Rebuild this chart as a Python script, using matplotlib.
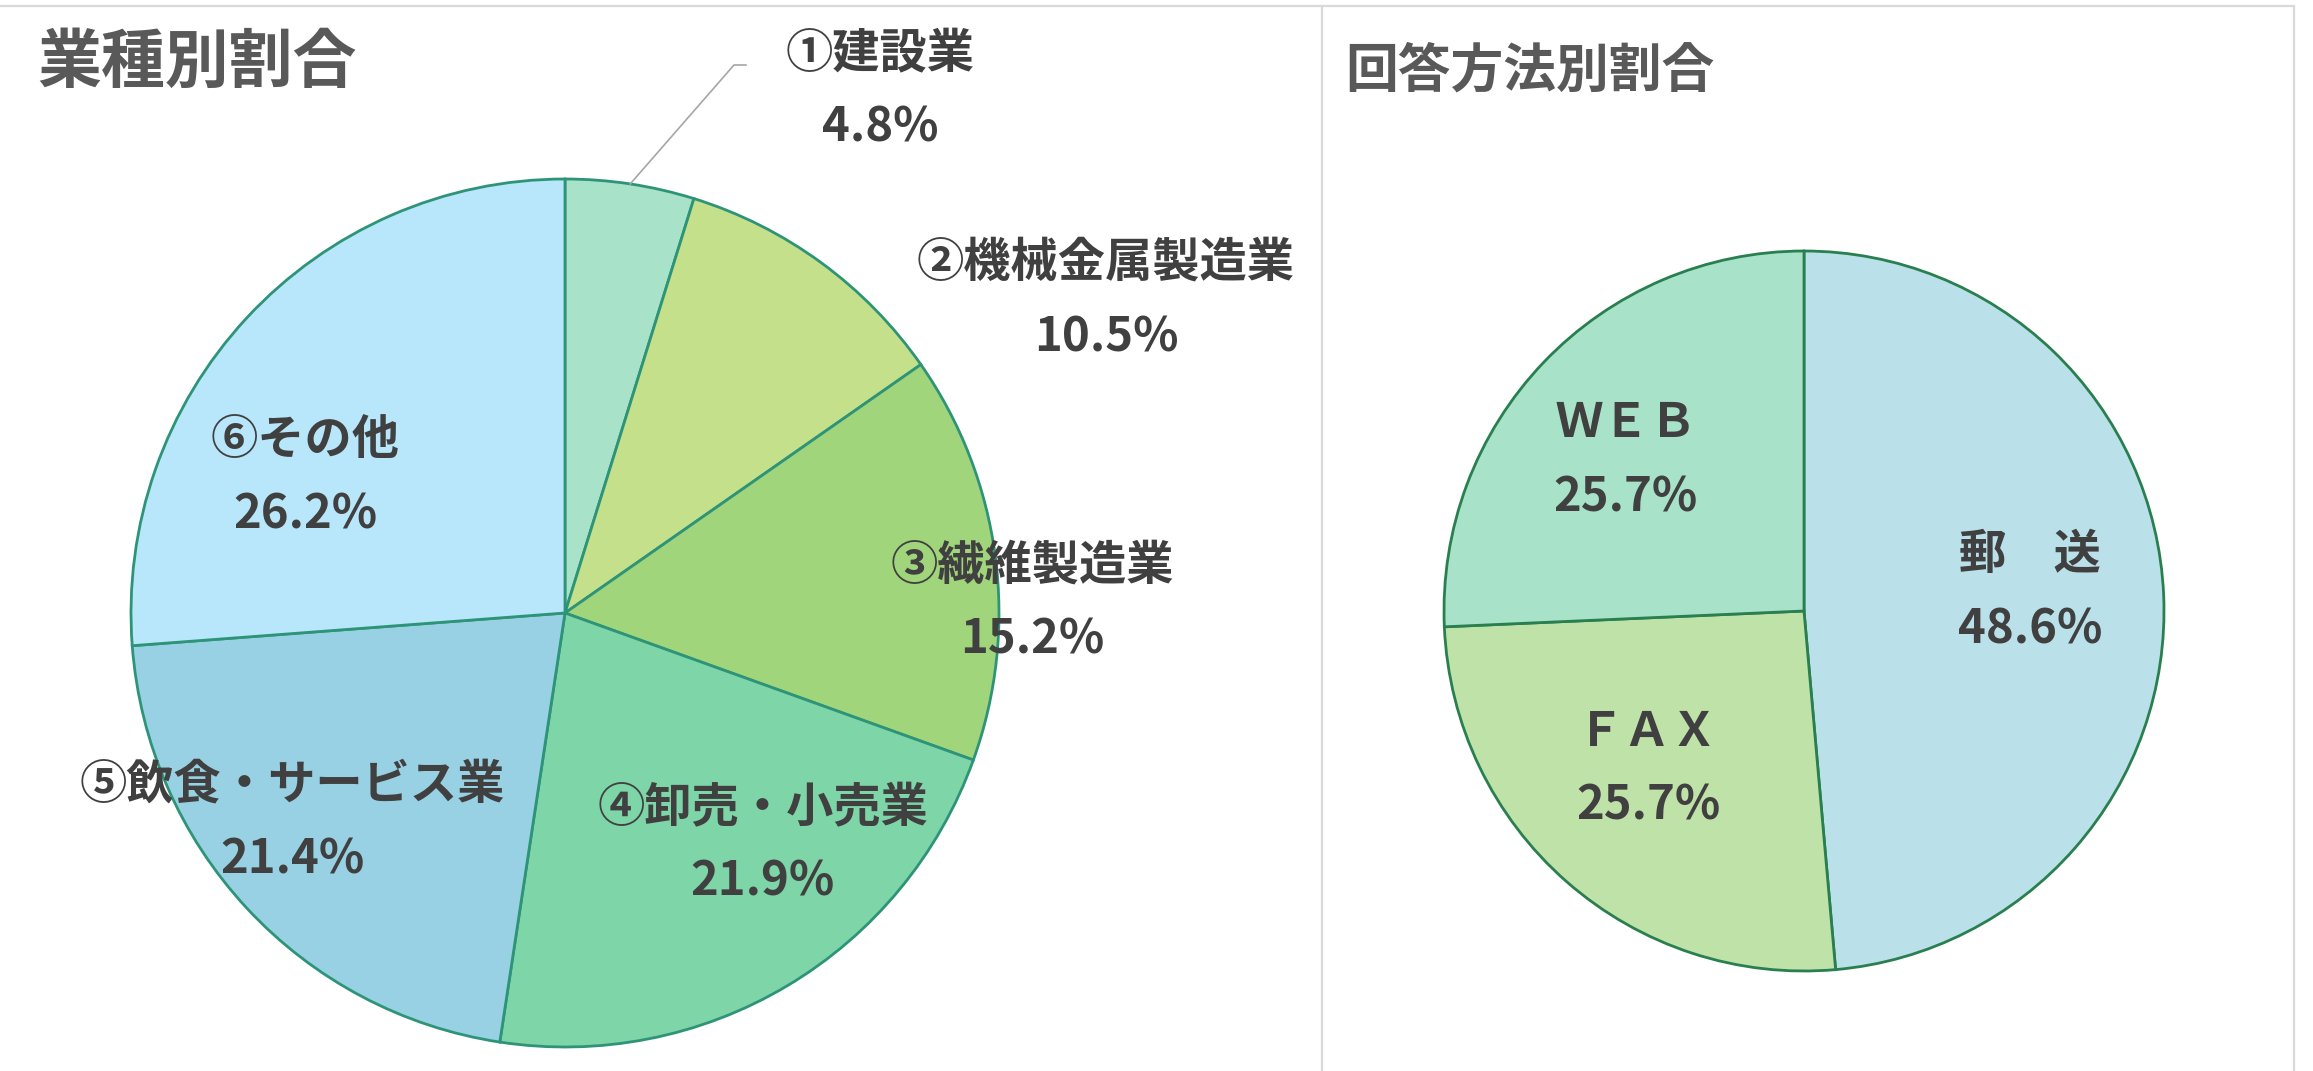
import matplotlib.pyplot as plt
from matplotlib.lines import Line2D
import numpy as np

plt.rcParams['font.family'] = ['Noto Sans CJK JP', 'DejaVu Sans']

# data: industry breakdown (left) and answer method (right)
industry_labels = ['①建設業', '②機械金属製造業', '③繊維製造業', '④卸売・小売業', '⑤飲食・サービス業', '⑥その他']
industry_values = [4.8, 10.5, 15.2, 21.9, 21.4, 26.2]
industry_colors = ['#A8E2C8', '#C4E08A', '#A0D57C', '#7ED5A8', '#98D1E3', '#B8E6FA']

method_labels = ['郵　送', 'ＦＡＸ', 'ＷＥＢ']
method_values = [48.6, 25.7, 25.7]
method_colors = ['#BAE1EA', '#BFE2A8', '#A8E2C8']

# layout (pixels in the 2313x1071 image)
W, H = 2313, 1071
industry_label_xy = [(880, 53), (1106, 263), (1032, 566), (763, 808), (292, 785), (305, 440)]
method_label_xy = [(2030, 555), (1648, 732), (1626, 423)]
line_gap = 74

fig = plt.figure(figsize=(W / 100, H / 100), dpi=100)
fig.patch.set_facecolor('white')


def fx(x):
    return x / W


def fy(y):
    return 1 - y / H


def pie_axes(cx, cy, r):
    return fig.add_axes([fx(cx - r), fy(cy + r), 2 * r / W, 2 * r / H])


# panel frame
frame = '#D9D9D9'
fig.add_artist(Line2D([0, fx(2294)], [fy(6), fy(6)], color=frame, lw=1.6))
fig.add_artist(Line2D([fx(1322), fx(1322)], [fy(6), 0], color=frame, lw=1.6))
fig.add_artist(Line2D([fx(2294), fx(2294)], [fy(6), 0], color=frame, lw=1.6))

text_color = '#404040'
title_color = '#595959'

# left pie
ax1 = pie_axes(565, 613, 434)
wedges1, _ = ax1.pie(industry_values, colors=industry_colors, startangle=90, counterclock=False,
                     radius=1, wedgeprops=dict(edgecolor='#2E9478', linewidth=2.0))
ax1.set_xlim(-1, 1)
ax1.set_ylim(-1, 1)
ax1.axis('off')

for lab, val, (x, y) in zip(industry_labels, industry_values, industry_label_xy):
    fig.text(fx(x), fy(y), lab, ha='center', va='center', fontsize=34, color=text_color, fontweight='bold')
    fig.text(fx(x), fy(y + line_gap), f'{val:.1f}%', ha='center', va='center', fontsize=34,
             color=text_color, fontweight='bold')

# leader line for the small slice
w = wedges1[0]
mid = np.deg2rad((w.theta1 + w.theta2) / 2)
ex, ey = 565 + 434 * np.cos(mid), 613 - 434 * np.sin(mid)
lx, ly = 746, 65
fig.add_artist(Line2D([fx(ex), fx(lx - 12), fx(lx)], [fy(ey), fy(ly), fy(ly)], color='#A6A6A6', lw=1.2))

fig.text(fx(37), fy(63), '業種別割合', ha='left', va='center', fontsize=46, color=title_color, fontweight='bold')

# right pie
ax2 = pie_axes(1804, 611, 360)
ax2.pie(method_values, colors=method_colors, startangle=90, counterclock=False,
        radius=1, wedgeprops=dict(edgecolor='#2A7F50', linewidth=2.0))
ax2.set_xlim(-1, 1)
ax2.set_ylim(-1, 1)
ax2.axis('off')

for lab, val, (x, y) in zip(method_labels, method_values, method_label_xy):
    fig.text(fx(x), fy(y), lab, ha='center', va='center', fontsize=34, color=text_color, fontweight='bold')
    fig.text(fx(x), fy(y + line_gap), f'{val:.1f}%', ha='center', va='center', fontsize=34,
             color=text_color, fontweight='bold')

fig.text(fx(1345), fy(71), '回答方法別割合', ha='left', va='center', fontsize=38, color=title_color, fontweight='bold')

fig.savefig('out.png', dpi=100, facecolor='white')
